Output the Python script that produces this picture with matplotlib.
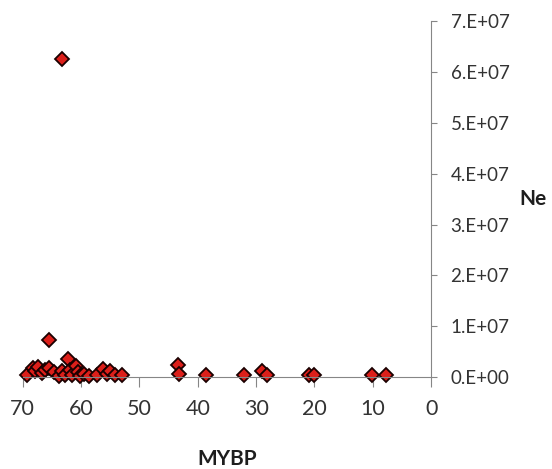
import numpy as np
import matplotlib
matplotlib.use("Agg")
import matplotlib.pyplot as plt
from matplotlib.ticker import FuncFormatter, MultipleLocator

# millions of years before present vs effective population size
mybp = [69.3, 68.3, 67.8, 67.4, 66.7, 66.2, 65.5, 65.4, 64.6, 63.7, 63.3, 63.2,
        62.8, 62.3, 61.9, 61.6, 60.9, 60.5, 60.2, 59.4, 58.7, 57.2, 56.3, 55.6,
        55.1, 54.2, 52.9, 43.4, 43.2, 38.5, 32.0, 29.0, 28.2, 21.0, 20.0, 10.2, 7.8]
ne = [0.4e6, 1.7e6, 1.2e6, 2.0e6, 0.8e6, 1.4e6, 7.3e6, 1.7e6, 0.9e6, 0.2e6, 62.5e6, 1.1e6,
      0.5e6, 3.6e6, 1.4e6, 0.4e6, 2.1e6, 0.9e6, 0.3e6, 0.6e6, 0.2e6, 0.4e6, 1.5e6, 0.7e6,
      1.2e6, 0.4e6, 0.4e6, 2.3e6, 0.7e6, 0.5e6, 0.5e6, 1.2e6, 0.4e6, 0.5e6, 0.5e6, 0.5e6, 0.5e6]

plt.rcParams['font.family'] = ['Lato', 'DejaVu Sans']

fig = plt.figure(figsize=(5.52, 4.69), dpi=100)
ax = fig.add_axes([0.041, 0.196, 0.740, 0.759])

ax.plot(mybp, ne, linestyle='none', marker='D', markersize=7.5,
        markerfacecolor='#dc1f1a', markeredgecolor='#1a0000', markeredgewidth=1.3,
        clip_on=False)

ax.set_xlim(70, 0)
ax.set_ylim(0, 7e7)
ax.xaxis.set_major_locator(MultipleLocator(10))
ax.yaxis.set_major_locator(MultipleLocator(1e7))

def sci(v, pos):
    if v == 0:
        return "0.E+00"
    e = int(np.floor(np.log10(abs(v))))
    return f"{v / 10**e:.0f}.E+{e:02d}"

ax.yaxis.set_major_formatter(FuncFormatter(sci))
ax.yaxis.tick_right()

for s in ['top', 'left']:
    ax.spines[s].set_visible(False)
for s in ['bottom', 'right']:
    ax.spines[s].set_color('#868686')

ax.tick_params(axis='x', direction='out', length=7, color='#868686',
               labelsize=15.5, labelcolor='#333333', pad=9)
ax.tick_params(axis='y', direction='out', length=4, color='#868686',
               labelsize=13.5, labelcolor='#333333', pad=10)

ax.set_xlabel("MYBP", fontsize=15, fontweight='bold', color='#1e1e1e')
ax.xaxis.set_label_coords(0.5, -0.203)
fig.text(0.966, 0.576, "Ne", fontsize=15, fontweight='bold', ha='center', va='center',
         color='#1e1e1e')

fig.savefig("out.png", dpi=100)
